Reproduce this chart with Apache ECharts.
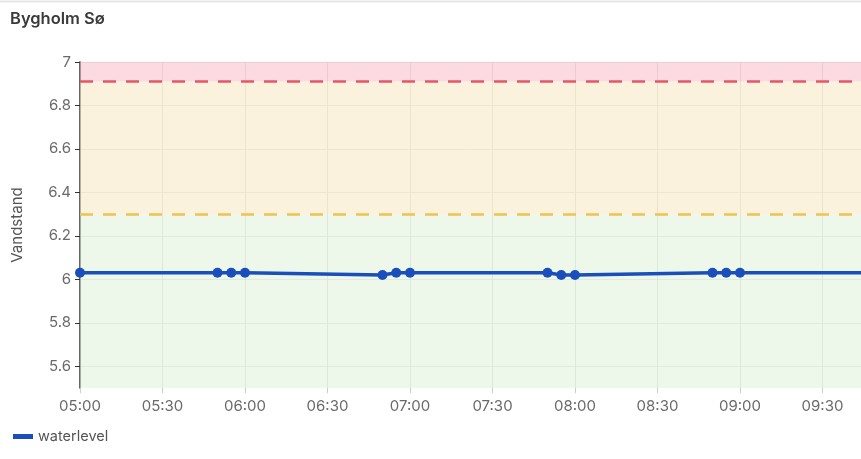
<!DOCTYPE html>
<html>
<head>
<meta charset="utf-8">
<script src="https://cdn.jsdelivr.net/npm/echarts@6/dist/echarts.min.js"></script>
<style>
html,body{margin:0;padding:0;background:#fff;}
#c{width:861px;height:459px;}
</style>
</head>
<body>
<div id="c"></div>
<script>
const times = ['05:00','05:50','05:55','06:00','06:50','06:55','07:00','07:50','07:55','08:00','08:50','08:55','09:00','09:50'];
const levels = [6.03,6.03,6.03,6.03,6.02,6.03,6.03,6.03,6.02,6.02,6.03,6.03,6.03,6.03];
const yTicks = [5.6,5.8,6.0,6.2,6.4,6.6,6.8,7.0];
const warnLevel = 6.3;
const alarmLevel = 6.91;
const yMin = 5.5, yMax = 7;

function toMin(hm){const [h,m]=hm.split(':').map(Number);return h*60+m;}
function fmt(v){const h=Math.floor(v/60),m=Math.round(v%60);return String(h).padStart(2,'0')+':'+String(m).padStart(2,'0');}
const xMin = toMin('05:00');
const xMax = toMin('09:44');

const chart = echarts.init(document.getElementById('c'));
chart.setOption({
  animation:false,
  textStyle:{fontFamily:'Inter'},
  title:{text:'Bygholm Sø',left:5,top:6,textStyle:{fontSize:16.5,fontWeight:600,color:'#3a3a3a',fontFamily:'Inter'}},
  graphic:[{type:'line',shape:{x1:0,y1:1.5,x2:861,y2:1.5},style:{stroke:'#e6e6e6',lineWidth:2}}],
  legend:{left:8,bottom:10,itemWidth:20,itemHeight:5,itemGap:10,icon:'rect',data:['waterlevel'],textStyle:{color:'#555',fontSize:14.5}},
  grid:{left:80,right:0,top:62,bottom:71,containLabel:false,outerBoundsMode:'none'},
  xAxis:{type:'value',min:xMin,max:xMax,interval:30,
    axisLine:{show:false},
    axisTick:{show:true,length:5,lineStyle:{color:'#ccc'}},
    splitLine:{show:true,lineStyle:{color:'#dcdcdc'}},
    axisLabel:{formatter:v=>fmt(v),color:'#6a6a6a',fontSize:15,margin:11,showMaxLabel:false}
  },
  yAxis:{type:'value',min:yMin,max:yMax,name:'Vandstand',nameLocation:'middle',nameGap:55,
    nameTextStyle:{color:'#555',fontSize:15},
    axisLine:{show:true,lineStyle:{color:'#333',width:1.5}},
    axisTick:{show:true,length:5,lineStyle:{color:'#333'},customValues:yTicks},
    axisLabel:{color:'#6a6a6a',fontSize:15,margin:9,customValues:yTicks,formatter:v=>String(+v.toFixed(1))},
    splitLine:{show:true,lineStyle:{color:'#e2e2e2'}}
  },
  series:[{
    name:'waterlevel',type:'line',
    data:times.map((t,i)=>[toMin(t),levels[i]]),
    color:'#1a4fbb',
    lineStyle:{width:3.5,color:'#1a4fbb'},
    symbol:'circle',symbolSize:10,showSymbol:true,clip:true,
    itemStyle:{color:'#1a4fbb'},
    markArea:{silent:true,data:[
      [{yAxis:yMin,itemStyle:{color:'rgba(222,242,216,0.55)'}},{yAxis:warnLevel}],
      [{yAxis:warnLevel,itemStyle:{color:'rgba(248,234,200,0.6)'}},{yAxis:alarmLevel}],
      [{yAxis:alarmLevel,itemStyle:{color:'rgba(248,190,200,0.55)'}},{yAxis:yMax}]
    ]},
    markLine:{silent:true,symbol:'none',label:{show:false},data:[
      {yAxis:alarmLevel,lineStyle:{color:'#e5566a',type:[13,10],width:2.5}},
      {yAxis:warnLevel,lineStyle:{color:'#f0c24e',type:[13,10],width:2.5}}
    ]}
  }]
});
</script>
</body>
</html>
